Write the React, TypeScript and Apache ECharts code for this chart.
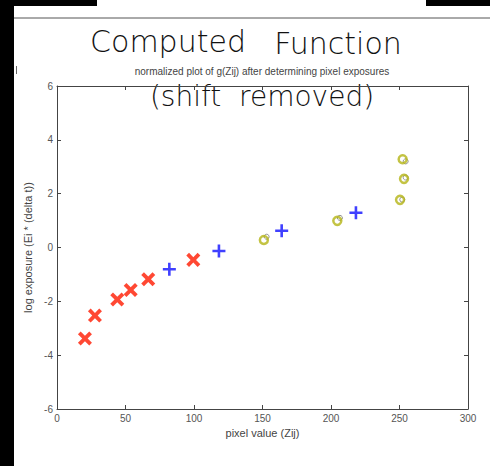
import React, { useEffect, useRef } from "react";
import * as echarts from "echarts";

const xTicks = [0, 50, 100, 150, 200, 250, 300];
const redX = [20.4, 27.7, 44, 53.8, 66.6, 99.5];
const redY = [-3.38, -2.53, -1.93, -1.58, -1.18, -0.46];
const blueX = [82, 118.2, 164, 218.2];
const blueY = [-0.81, -0.13, 0.62, 1.29];
const yellowX = [151, 204.6, 250.4, 253.3, 252.3];
const yellowY = [0.28, 0.99, 1.77, 2.55, 3.28];
const greyX = [153, 206.5, 252, 254.5, 254.5];
const greyY = [0.4, 1.1, 1.78, 2.6, 3.2];

const titleText = "normalized plot of g(Zij) after determining pixel exposures";
const xName = "pixel value (Zij)";
const yName = "log exposure (Ei * (delta t))";

const PLUS = "path://M4,0H6V4H10V6H6V10H4V6H0V4H4Z";
const PLUS_BOLD = "path://M3.8,0H6.2V3.8H10V6.2H6.2V10H3.8V6.2H0V3.8H3.8Z";
const FONT = "Liberation Sans, Arial, sans-serif";

function zip(xs: number[], ys: number[]) {
  return xs.map((x, i) => [x, ys[i]]);
}

export default function App() {
  const ref = useRef<HTMLDivElement>(null);
  useEffect(() => {
    document.body.style.margin = "0";
    const chart = echarts.init(ref.current!, null, { renderer: "svg" });
    const axisLine = { show: true, onZero: false, lineStyle: { color: "#444", width: 1 } };
    const tick = { show: true, inside: true, length: 4, lineStyle: { color: "#444" } };
    const label = { color: "#555", fontSize: 10, fontFamily: FONT };
    chart.setOption({
      animation: false,
      backgroundColor: "#fff",
      grid: { left: 57, right: 22, top: 86, bottom: 57 },
      xAxis: [
        {
          type: "value", min: xTicks[0], max: xTicks[xTicks.length - 1], interval: 50,
          position: "bottom", axisLine, axisTick: tick, splitLine: { show: false },
          axisLabel: { ...label, margin: 4 },
          name: xName, nameLocation: "middle", nameGap: 18,
          nameTextStyle: { color: "#444", fontSize: 11, fontFamily: FONT },
        },
        {
          type: "value", min: 0, max: 300, interval: 50, position: "top",
          axisLine, axisTick: tick, splitLine: { show: false }, axisLabel: { show: false },
        },
      ],
      yAxis: [
        {
          type: "value", min: -6, max: 6, interval: 2, position: "left",
          axisLine, axisTick: tick, splitLine: { show: false },
          axisLabel: { ...label, margin: 4 },
          name: yName, nameLocation: "middle", nameGap: 17,
          nameTextStyle: { color: "#444", fontSize: 11, fontFamily: FONT },
        },
        {
          type: "value", min: -6, max: 6, interval: 2, position: "right",
          axisLine, axisTick: tick, splitLine: { show: false }, axisLabel: { show: false },
        },
      ],
      series: [
        {
          type: "scatter", data: zip(greyX, greyY), symbol: "circle", symbolSize: 5,
          itemStyle: { color: "rgba(0,0,0,0)", borderColor: "#777", borderWidth: 1 }, z: 1,
        },
        {
          type: "scatter", data: zip(yellowX, yellowY), symbol: "circle", symbolSize: 8,
          itemStyle: { color: "rgba(0,0,0,0)", borderColor: "#b4b414", borderWidth: 2.5 }, z: 2,
        },
        {
          type: "scatter", data: zip(redX, redY), symbol: PLUS_BOLD, symbolSize: 16, symbolRotate: 45,
          itemStyle: { color: "#ff1a00" }, z: 2,
        },
        {
          type: "scatter", data: zip(blueX, blueY), symbol: PLUS, symbolSize: 13,
          itemStyle: { color: "#1010ff" }, z: 2,
        },
      ],
      graphic: [
        { type: "rect", shape: { x: 0, y: 0, width: 14, height: 466 }, style: { fill: "#000" } },
        { type: "rect", shape: { x: 0, y: 0, width: 97, height: 6 }, style: { fill: "#000" } },
        { type: "rect", shape: { x: 426, y: 0, width: 64, height: 6 }, style: { fill: "#000" } },
        { type: "line", shape: { x1: 14, y1: 18, x2: 490, y2: 18 }, style: { stroke: "#555", lineWidth: 1 } },
        { type: "rect", shape: { x: 16, y: 66, width: 1, height: 8 }, style: { fill: "#666" } },
        {
          type: "text", x: 262, y: 71,
          style: { text: titleText, textAlign: "center", textVerticalAlign: "middle", fill: "#444", fontSize: 10, fontFamily: FONT },
        },
        {
          type: "text", x: 168, y: 56,
          style: { text: "Computed", textAlign: "center", textVerticalAlign: "bottom", fill: "#111", fontSize: 30, fontFamily: "DejaVu Sans", fontWeight: 300 },
        },
        {
          type: "text", x: 338, y: 58,
          style: { text: "Function", textAlign: "center", textVerticalAlign: "bottom", fill: "#111", fontSize: 30, fontFamily: "DejaVu Sans", fontWeight: 300 },
        },
        {
          type: "text", x: 262, y: 110,
          style: { text: "(shift  removed)", textAlign: "center", textVerticalAlign: "bottom", fill: "#111", fontSize: 28, fontFamily: "DejaVu Sans", fontWeight: 300 },
        },
      ],
    });
    return () => chart.dispose();
  }, []);
  return <div ref={ref} style={{ position: "fixed", left: 0, top: 0, width: 490, height: 466 }} />;
}
